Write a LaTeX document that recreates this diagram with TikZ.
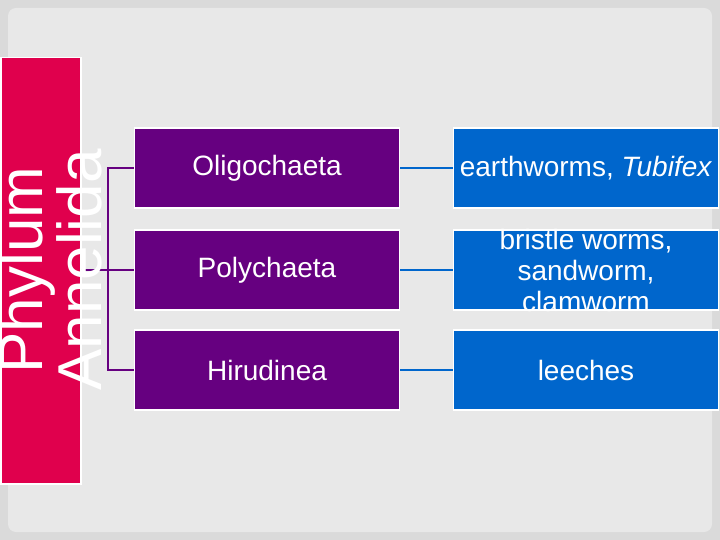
\documentclass[tikz,border=0pt]{standalone}
\usepackage{fontspec}
\setmainfont{Liberation Sans}
\usetikzlibrary{positioning}
\definecolor{annred}{RGB}{224,0,77}
\definecolor{classpurple}{RGB}{102,0,128}
\definecolor{exblue}{RGB}{0,102,204}
\definecolor{outergray}{RGB}{218,218,218}
\definecolor{innergray}{RGB}{232,232,232}
\tikzset{
  classbox/.style={draw=white,line width=1.5pt,fill=classpurple,text=white,minimum width=265pt,minimum height=80pt,font=\fontsize{28}{31}\selectfont},
  exbox/.style={draw=white,line width=1.5pt,fill=exblue,text=white,minimum width=265pt,minimum height=80pt,align=center,font=\fontsize{28}{31}\selectfont},
  exlabel/.style={text=white,align=center,font=\fontsize{28}{31}\selectfont},
  purpleline/.style={draw=classpurple,line width=1.5pt},
  blueline/.style={draw=exblue,line width=1.5pt}
}
\begin{document}
\begin{tikzpicture}[x=1pt,y=-1pt]
\useasboundingbox (0,0) rectangle (720,540);
\fill[outergray] (0,0) rectangle (720,540);
\fill[innergray,rounded corners=8pt] (8,8) rectangle (712,532);
% phylum box
\node[fill=annred,draw=white,line width=1.5pt,minimum width=80pt,minimum height=426pt,anchor=north west] (phylum) at (0,57) {};
% connectors
\coordinate (fork) at (108,270);
\draw[purpleline] (phylum.east |- fork) -- (fork);
\node[rotate=90,text=white,align=center,font=\fontsize{62}{52}\selectfont] (phylumtext) at (50,270) {Phylum\\Annelida};
% classes
\node[classbox] (oligo) at (267,168) {Oligochaeta};
\node[classbox] (poly) at (267,270) {Polychaeta};
\node[classbox] (hiru) at (267,370) {Hirudinea};
\node[exbox] (worms) at (586,168) {earthworms, \emph{Tubifex}};
\node[exbox,label={[exlabel]center:bristle worms,\\sandworm,\\clamworm}] (bristle) at (586,270) {};
\node[exbox] (leech) at (586,370) {leeches};
\draw[purpleline] (oligo.west) -| (fork) |- (hiru.west);
\draw[purpleline] (fork) -- (poly.west);
\draw[blueline] (oligo) -- (worms);
\draw[blueline] (poly) -- (bristle);
\draw[blueline] (hiru) -- (leech);
\end{tikzpicture}
\end{document}
